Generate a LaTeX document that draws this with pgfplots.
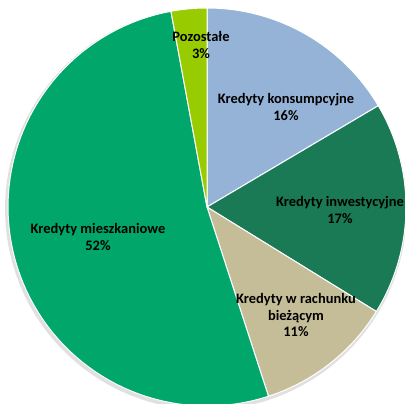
\documentclass[border=0pt]{standalone}
\usepackage{pgfplots}
\usepackage{pgfplotstable}
\pgfplotsset{compat=1.18}
\usepackage{fontspec}
\setmainfont{Carlito}

\definecolor{konsum}{RGB}{149,179,215}
\definecolor{inwest}{RGB}{26,122,86}
\definecolor{rachun}{RGB}{196,189,151}
\definecolor{mieszk}{RGB}{0,166,106}
\definecolor{pozost}{RGB}{153,204,0}

% shares in percent, clockwise from 12 o'clock
\pgfplotstableread{
value
16.5
17.3
11.2
52.1
2.9
}\piedata
\pgfplotstablecreatecol[create col/expr accum={\pgfmathaccuma + \thisrow{value}}{0}]{cum}\piedata

\def\slicecolors{{"konsum","inwest","rachun","mieszk","pozost"}}

\begin{document}
\begin{tikzpicture}
\begin{axis}[
    width=405bp, height=404bp,
    scale only axis,
    hide axis,
    xmin=0, xmax=405, ymin=0, ymax=404,
    clip=true,
]
% soft shadow
\addplot[draw=none, fill=black!12, domain=0:360, samples=120]
    ({206+201*sin(x)}, {195+201*cos(x)}) -- cycle;
\pgfplotsinvokeforeach{0,...,4}{
    \pgfplotstablegetelem{#1}{cum}\of\piedata
    \pgfmathsetmacro\hi{\pgfplotsretval}
    \pgfplotstablegetelem{#1}{value}\of\piedata
    \pgfmathsetmacro\lo{\hi-\pgfplotsretval}
    \pgfmathsetmacro\col{\slicecolors[#1]}
    \edef\doslice{\noexpand\addplot[fill=\col, draw=white, line width=1pt,
        domain=\lo:\hi, samples=80]
        ({207+199*sin(3.6*x)}, {197+199*cos(3.6*x)}) -- (axis cs:207,197) -- cycle;}
    \doslice
}
\begin{scope}[every node/.style={align=center, font=\fontsize{14.5}{16.5}\selectfont\bfseries, text=black}]
\node at (axis cs:201,359) {Pozostałe\\3\%};
\node at (axis cs:286,297) {Kredyty konsumpcyjne\\16\%};
\node at (axis cs:340,194) {Kredyty inwestycyjne\\17\%};
\node at (axis cs:296,89) {Kredyty w rachunku\\bieżącym\\11\%};
\node at (axis cs:98,167) {Kredyty mieszkaniowe\\52\%};
\end{scope}
\end{axis}
\pgfresetboundingbox
\path (current axis.south west) rectangle (current axis.north east);
\end{tikzpicture}
\end{document}
